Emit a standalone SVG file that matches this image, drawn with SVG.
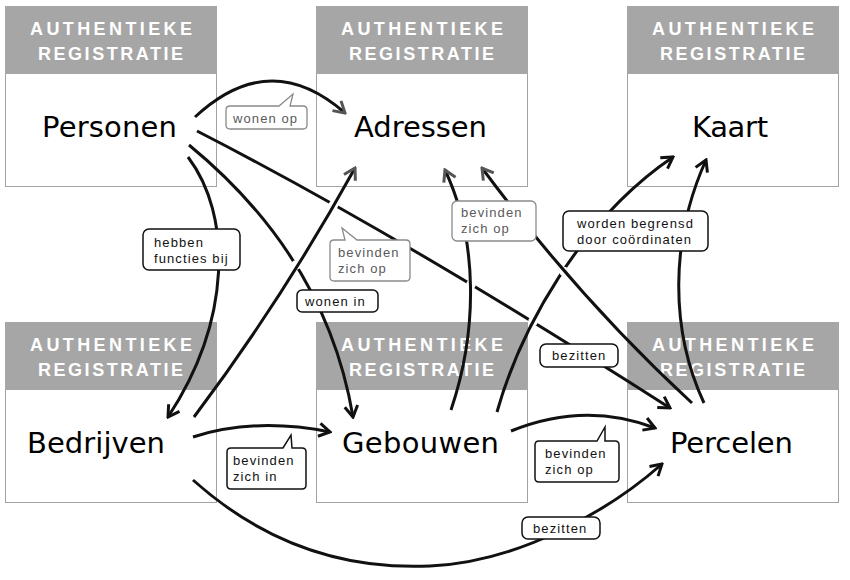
<svg xmlns="http://www.w3.org/2000/svg" width="850" height="580" viewBox="0 0 850 580">
<defs>
<style>
.box{fill:#fff;stroke:#a3a3a3;stroke-width:1}
.hdr{fill:#a6a6a6}
.ht{font-family:"Liberation Sans",Arial,sans-serif;font-weight:bold;font-size:18px;fill:#fff}
.nm{font-family:"DejaVu Sans","Liberation Sans",sans-serif;font-size:29px;fill:#000}
.c{fill:none;stroke:#111;stroke-width:3;stroke-linecap:butt}
.ca{marker-end:url(#ah)}
.cg{marker-end:url(#ahg)}
.gap{fill:#fff;stroke:none}
.lb{fill:#fff;stroke:#111;stroke-width:1.5}
.lg{fill:#fff;stroke:#8a8a8a;stroke-width:1.3}
.t{font-family:"Liberation Sans",Arial,sans-serif;font-size:13px;letter-spacing:1.1px;fill:#111}
.tg{font-family:"Liberation Sans",Arial,sans-serif;font-size:13px;letter-spacing:1.1px;fill:#5a5a5a}
</style>
<marker id="ah" viewBox="-14 -8 16 16" markerWidth="16" markerHeight="16" refX="0" refY="0" orient="auto" markerUnits="userSpaceOnUse">
<path d="M-11,-6.5 L0,0 L-11,6.5" fill="none" stroke="#111" stroke-width="3"/>
</marker>
<marker id="ahg" viewBox="-14 -8 16 16" markerWidth="16" markerHeight="16" refX="0" refY="0" orient="auto" markerUnits="userSpaceOnUse">
<path d="M-11,-6.5 L0,0 L-11,6.5" fill="none" stroke="#555" stroke-width="3"/>
</marker>
</defs>
<rect width="850" height="580" fill="#fff"/>

<g id="personen">
<rect class="box" x="5.5" y="6.5" width="211" height="180"/>
<rect class="hdr" x="5" y="6" width="212" height="68"/>
<text class="ht" x="30" y="35" textLength="162" lengthAdjust="spacing">AUTHENTIEKE</text>
<text class="ht" x="38" y="60" textLength="145" lengthAdjust="spacing">REGISTRATIE</text>
<text class="nm" x="42" y="137" textLength="135" lengthAdjust="spacing">Personen</text>
</g>
<g id="adressen">
<rect class="box" x="316.5" y="6.5" width="211" height="180"/>
<rect class="hdr" x="316" y="6" width="212" height="68"/>
<text class="ht" x="341" y="35" textLength="162" lengthAdjust="spacing">AUTHENTIEKE</text>
<text class="ht" x="349" y="60" textLength="145" lengthAdjust="spacing">REGISTRATIE</text>
<text class="nm" x="354" y="137" textLength="133" lengthAdjust="spacing">Adressen</text>
</g>
<g id="kaart">
<rect class="box" x="627.5" y="6.5" width="211" height="180"/>
<rect class="hdr" x="627" y="6" width="212" height="68"/>
<text class="ht" x="652" y="35" textLength="162" lengthAdjust="spacing">AUTHENTIEKE</text>
<text class="ht" x="660" y="60" textLength="145" lengthAdjust="spacing">REGISTRATIE</text>
<text class="nm" x="692" y="137" textLength="76" lengthAdjust="spacing">Kaart</text>
</g>
<g id="bedrijven">
<rect class="box" x="5.5" y="322.5" width="211" height="180"/>
<rect class="hdr" x="5" y="322" width="212" height="68"/>
<text class="ht" x="30" y="351" textLength="162" lengthAdjust="spacing">AUTHENTIEKE</text>
<text class="ht" x="38" y="376" textLength="145" lengthAdjust="spacing">REGISTRATIE</text>
<text class="nm" x="27" y="453" textLength="138" lengthAdjust="spacing">Bedrijven</text>
</g>
<g id="gebouwen">
<rect class="box" x="316.5" y="322.5" width="211" height="180"/>
<rect class="hdr" x="316" y="322" width="212" height="68"/>
<text class="ht" x="341" y="351" textLength="162" lengthAdjust="spacing">AUTHENTIEKE</text>
<text class="ht" x="349" y="376" textLength="145" lengthAdjust="spacing">REGISTRATIE</text>
<text class="nm" x="342" y="453" textLength="157" lengthAdjust="spacing">Gebouwen</text>
</g>
<g id="percelen">
<rect class="box" x="627.5" y="322.5" width="211" height="180"/>
<rect class="hdr" x="627" y="322" width="212" height="68"/>
<text class="ht" x="652" y="351" textLength="162" lengthAdjust="spacing">AUTHENTIEKE</text>
<text class="ht" x="660" y="376" textLength="145" lengthAdjust="spacing">REGISTRATIE</text>
<text class="nm" x="670" y="453" textLength="123" lengthAdjust="spacing">Percelen</text>
</g>

<g id="connectors">
<path class="c ca" d="M197,131 Q400,235 670,408"/>
<path class="c ca" d="M189,145 C262,205 332,292 353,417"/>
<circle class="gap" cx="333.6" cy="204.8" r="4.8"/>
<circle class="gap" cx="296" cy="265" r="4.8"/>
<circle class="gap" cx="471" cy="284.5" r="4.8"/>
<circle class="gap" cx="533" cy="321.5" r="4.8"/>
<path class="c ca" d="M497,412 C520,330 580,220 673,157"/>
<path class="c cg" d="M194,417 Q282,300 355,168"/>
<path class="c cg" d="M451,410 C478,330 478,240 445,170"/>
<circle class="gap" cx="564" cy="271.5" r="4.8"/>
<path class="c cg" d="M692,403 Q580,300 482,168"/>
<path class="c cg" d="M195,117 Q270,47 345,113"/>
<path class="c ca" d="M188,157 C232,215 232,320 168,417"/>
<path class="c ca" d="M704,403 C670,330 670,240 706,160"/>
<path class="c ca" d="M193,437 Q255,417 330,432"/>
<path class="c ca" d="M511,431 Q585,401 655,428"/>
<path class="c ca" d="M193,480 C260,540 340,570 430,566 C520,562 610,510 662,464"/>

<g id="lbl-wonen-op">
<path class="lg" d="M230,106 H279 L293,94 L290,106 H303 Q307,106 307,110 V125 Q307,129 303,129 H230 Q226,129 226,125 V110 Q226,106 230,106 Z"/>
<text class="tg" x="233" y="123">wonen op</text>
</g>
<g id="lbl-hebben">
<rect class="lb" x="143" y="229" width="97" height="41" rx="6"/>
<text class="t" x="154" y="247">hebben</text>
<text class="t" x="154" y="263">functies bij</text>
</g>
<g id="lbl-bevinden-b-a">
<path class="lg" d="M334,240 H345 L342,228 L357,240 H406 Q410,240 410,244 V277 Q410,281 406,281 H334 Q330,281 330,277 V244 Q330,240 334,240 Z"/>
<text class="tg" x="338" y="257">bevinden</text>
<text class="tg" x="338" y="273">zich op</text>
</g>
<g id="lbl-wonen-in">
<rect class="lb" x="297" y="290" width="81" height="22" rx="5"/>
<text class="t" x="305" y="306">wonen in</text>
</g>
<g id="lbl-bevinden-g-a">
<rect class="lg" x="452" y="201" width="84" height="40" rx="5"/>
<text class="tg" x="461" y="217">bevinden</text>
<text class="tg" x="461" y="233">zich op</text>
</g>
<g id="lbl-worden">
<rect class="lb" x="563" y="211" width="145" height="40" rx="6"/>
<text class="t" x="577" y="228">worden begrensd</text>
<text class="t" x="577" y="244">door coördinaten</text>
</g>
<g id="lbl-bezitten-1">
<rect class="lb" x="540" y="344" width="78" height="23" rx="6"/>
<text class="t" x="552" y="360">bezitten</text>
</g>
<g id="lbl-bevinden-zich-in">
<path class="lb" d="M231,448 H283 L291,435 L292,448 H302 Q306,448 306,452 V485 Q306,489 302,489 H231 Q227,489 227,485 V452 Q227,448 231,448 Z"/>
<text class="t" x="233" y="465">bevinden</text>
<text class="t" x="233" y="481">zich in</text>
</g>
<g id="lbl-bevinden-g-p">
<path class="lb" d="M539,441 H597 L605,427 L605,441 H615 Q619,441 619,445 V478 Q619,482 615,482 H539 Q535,482 535,478 V445 Q535,441 539,441 Z"/>
<text class="t" x="545" y="458">bevinden</text>
<text class="t" x="545" y="474">zich op</text>
</g>
<g id="lbl-bezitten-2">
<rect class="lb" x="522" y="517" width="78" height="22" rx="6"/>
<text class="t" x="533" y="533">bezitten</text>
</g>
</g>
</svg>
